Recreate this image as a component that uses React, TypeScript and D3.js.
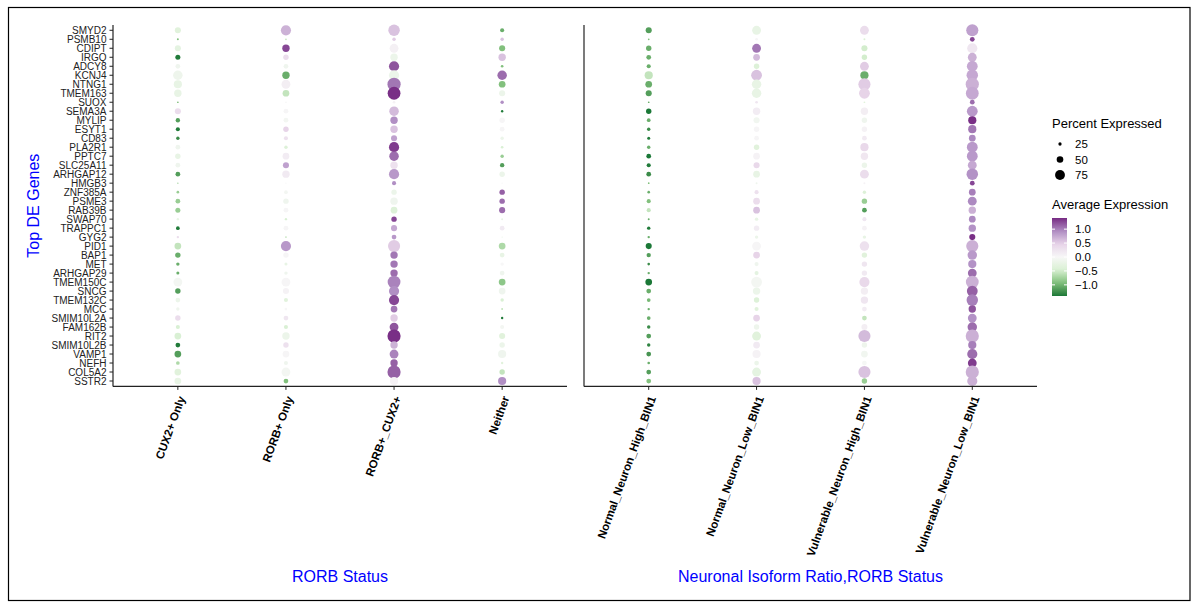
import React from "react";
import * as d3 from "d3";

// genes, top to bottom
const genes = [
  "SMYD2", "PSMB10", "CDIPT", "IRGQ", "ADCY8", "KCNJ4", "NTNG1", "TMEM163", "SUOX", "SEMA3A",
  "MYLIP", "ESYT1", "CD83", "PLA2R1", "PPTC7", "SLC25A11", "ARHGAP12", "HMGB3", "ZNF385A", "PSME3",
  "RAB39B", "SWAP70", "TRAPPC1", "GYG2", "PID1", "BAP1", "MET", "ARHGAP29", "TMEM150C", "SNCG",
  "TMEM132C", "MCC", "SMIM10L2A", "FAM162B", "RIT2", "SMIM10L2B", "VAMP1", "NEFH", "COL5A2", "SSTR2",
];

const rorbGroups = ["CUX2+ Only", "RORB+ Only", "RORB+_CUX2+", "Neither"];
const isoformGroups = [
  "Normal_Neuron_High_BIN1", "Normal_Neuron_Low_BIN1",
  "Vulnerable_Neuron_High_BIN1", "Vulnerable_Neuron_Low_BIN1",
];

// average expression / percent expressed, one pair per group
const cux2OnlyAvg = [-0.35, -0.92, -0.29, -1.38, -0.12, -0.14, -0.23, -0.23, -0.92, 0.35, -1.15, -1.38, -1.27, -0.12, -0.23, -0.12, -1.15, -0.8, -0.8, -0.8, -0.8, -0.23, -1.38, 0.35, -0.58, -1.04, -1.04, -1.04, -0.06, -1.15, -0.17, -0.12, 0.35, -0.46, -0.46, -1.38, -1.15, -0.69, -0.35, -0.23];
const cux2OnlyPct = [46, 15, 46, 38, 36, 72, 62, 56, 13, 46, 33, 31, 26, 36, 41, 36, 36, 10, 20, 36, 38, 18, 28, 18, 51, 41, 26, 23, 67, 41, 36, 26, 41, 31, 51, 36, 51, 28, 51, 51];

const rorbOnlyAvg = [0.69, -0.58, 1.27, 0.35, -0.12, -1.04, 0.12, -0.58, 0, 0.02, -0.06, 0.46, 0.29, -0.4, 0.14, 0.8, 0.17, 0, -0.06, -0.12, 0.02, -0.46, 0.02, -0.58, 0.86, 0.02, -0.23, -0.12, 0.02, 0.06, -0.35, 0, 0.23, -0.46, -0.17, 0.29, 0.03, -0.12, -0.06, -0.92];
const rorbOnlyPct = [77, 13, 56, 41, 36, 56, 67, 51, 13, 36, 36, 41, 31, 26, 51, 46, 56, 10, 28, 41, 36, 18, 36, 13, 77, 41, 23, 26, 67, 46, 31, 20, 36, 31, 56, 41, 51, 31, 67, 36];

const bothAvg = [0.58, 0.52, 0.09, -0.17, 1.21, -0.17, 1.04, 1.38, 0.06, 0.63, 0.92, 0.58, 0.8, 1.32, 1.09, 0.29, 0.86, 0.92, -0.17, -0.12, -0.4, 1.27, 0.75, 0.86, 0.52, 1.04, 1.04, 1.09, 0.98, 0.92, 1.27, 1.04, 0.52, 1.21, 1.38, 0.69, 0.98, 1.15, 1.15, 0.06];
const bothPct = [87, 26, 67, 56, 77, 77, 100, 97, 20, 72, 56, 56, 46, 77, 72, 56, 77, 31, 41, 56, 51, 41, 46, 36, 92, 56, 56, 56, 97, 77, 77, 51, 56, 67, 100, 56, 67, 56, 100, 62];

const neitherAvg = [-1.04, 0.58, -0.92, 0.58, -0.92, 1.09, -0.92, -0.17, 0.92, -1.38, 0.03, 0.02, -0.17, -0.46, -0.8, -1.15, -0.17, 0, 1.15, 1.09, 1.09, -0.23, 0.17, -0.17, -0.69, -0.23, 0, -0.12, -0.86, -0.12, -0.46, -0.58, -1.38, -0.06, -0.35, -0.17, -0.12, -0.35, -0.58, 0.92];
const neitherPct = [31, 26, 46, 56, 20, 72, 51, 46, 26, 18, 41, 36, 26, 20, 26, 33, 41, 10, 41, 41, 46, 15, 36, 10, 51, 36, 26, 36, 51, 51, 26, 15, 18, 31, 46, 41, 62, 18, 41, 62];

const normalHighAvg = [-1.15, -0.92, -1.04, -1.04, -1.04, -0.58, -1.04, -1.15, -1.04, -1.4, -1.04, -1.27, -1.38, -1.04, -1.4, -1.38, -1.27, -0.92, -1.04, -0.92, -0.58, -1.04, -1.38, -1.04, -1.4, -1.15, -1.27, -1.04, -1.4, -1.04, -0.98, -1.04, -1.04, -1.27, -1.15, -1.32, -1.21, -1.04, -1.15, -0.92];
const normalHighPct = [46, 13, 41, 36, 31, 62, 51, 46, 13, 41, 28, 26, 23, 26, 36, 31, 36, 13, 20, 31, 31, 15, 26, 18, 46, 33, 20, 18, 51, 36, 28, 18, 28, 26, 36, 26, 36, 20, 36, 36];

const normalLowAvg = [-0.23, 0.02, 1.04, 0.63, -0.4, 0.58, -0.23, -0.23, 0.23, 0.14, -0.09, 0.02, 0.02, -0.35, 0.06, 0.4, -0.23, -0.12, 0.29, 0.35, 0.58, -0.23, 0.14, -0.17, 0.02, 0.46, -0.12, -0.29, -0.06, -0.17, -0.4, -0.35, 0.46, -0.14, -0.35, 0.17, 0.06, -0.17, -0.29, 0.58];
const normalLowPct = [67, 20, 67, 51, 41, 82, 72, 72, 20, 56, 46, 41, 36, 41, 51, 46, 51, 15, 31, 51, 51, 26, 41, 26, 67, 51, 31, 31, 82, 56, 41, 31, 51, 41, 67, 51, 62, 36, 67, 62];

const vulnHighAvg = [0.35, -0.4, -0.5, -0.5, 0.52, -1.04, 0.52, 0.46, -0.35, 0.12, -0.12, 0.06, 0.17, 0.4, 0.21, -0.17, 0.35, 0.06, -0.4, -0.8, -1.15, 0.23, 0.06, -0.23, 0.29, -0.35, 0.23, 0.17, 0.4, 0.12, 0.23, 0.14, -0.58, 0.12, 0.63, -0.14, -0.09, -0.03, 0.58, -0.8];
const vulnHighPct = [67, 15, 46, 41, 67, 62, 92, 82, 13, 56, 41, 41, 36, 62, 56, 41, 67, 15, 26, 41, 36, 31, 36, 26, 72, 41, 41, 41, 77, 56, 56, 36, 36, 46, 92, 41, 51, 36, 92, 41];

const vulnLowAvg = [0.8, 1.27, 0.23, 0.7, 0.75, 0.75, 0.7, 0.75, 1.09, 0.85, 1.38, 1.04, 0.95, 0.85, 0.85, 0.75, 0.9, 1.27, 1.0, 0.95, 0.7, 0.95, 0.9, 1.38, 0.7, 0.85, 0.9, 1.09, 0.7, 1.15, 1.0, 1.21, 0.9, 1.09, 0.7, 1.0, 1.09, 1.32, 0.7, 0.7];
const vulnLowPct = [92, 36, 77, 67, 82, 87, 100, 97, 36, 82, 62, 62, 51, 82, 82, 67, 87, 36, 51, 67, 56, 51, 56, 46, 92, 72, 62, 67, 97, 82, 87, 56, 67, 72, 100, 62, 77, 67, 100, 77];

const sizeBreaks = [25, 50, 75];
const colorBreaks = [1.0, 0.5, 0.0, -0.5, -1.0];
const prgn = ["#1b7837", "#7fbf7b", "#d9f0d3", "#f7f7f7", "#e7d4e8", "#af8dc3", "#762a83"];

const W = 1191;
const H = 602;
const plotTop = 24.9;
const plotBottom = 386.4;
const font = "'Liberation Sans', Arial, Helvetica, sans-serif";

const panels = [
  {
    key: "rorb", x0: 113, x1: 567, groups: rorbGroups, title: "RORB Status", genes: true,
    avg: [cux2OnlyAvg, rorbOnlyAvg, bothAvg, neitherAvg],
    pct: [cux2OnlyPct, rorbOnlyPct, bothPct, neitherPct],
  },
  {
    key: "iso", x0: 584, x1: 1037, groups: isoformGroups, title: "Neuronal Isoform Ratio,RORB Status", genes: false,
    avg: [normalHighAvg, normalLowAvg, vulnHighAvg, vulnLowAvg],
    pct: [normalHighPct, normalLowPct, vulnHighPct, vulnLowPct],
  },
];

export default function App() {
  const y = d3.scalePoint<string>().domain(genes).range([plotTop, plotBottom]).padding(0.6);
  const r = d3.scaleLinear().domain([0, 100]).range([0, 6.6]);
  const lo = -1.4, hi = 1.4;
  const color = d3.scaleLinear<string>()
    .domain(prgn.map((_, i) => lo + (i * (hi - lo)) / (prgn.length - 1)))
    .range(prgn)
    .interpolate(d3.interpolateLab)
    .clamp(true);

  // colourbar
  const barX = 1052, barW = 15;
  const barY = d3.scaleLinear().domain([lo, hi]).range([296, 218]);
  const stops = d3.range(0, 1.0001, 0.05);

  return (
    <svg width={W} height={H} style={{ position: "absolute", left: 0, top: 0, background: "#fff" }} fontFamily={font}>
      <defs>
        <linearGradient id="avgGrad" x1="0" y1="1" x2="0" y2="0">
          {stops.map((t) => (
            <stop key={t} offset={t} stopColor={color(lo + t * (hi - lo))} />
          ))}
        </linearGradient>
      </defs>
      <rect x={8.5} y={7.5} width={1181.5} height={593} fill="#fff" stroke="#000" strokeWidth={1.2} />

      {panels.map((p) => {
        const x = d3.scalePoint<string>().domain(p.groups).range([p.x0, p.x1]).padding(0.6);
        return (
          <g key={p.key}>
            {p.groups.map((g, gi) =>
              genes.map((gene, i) => (
                <circle
                  key={g + gene}
                  cx={x(g)}
                  cy={y(gene)}
                  r={r(p.pct[gi][i])}
                  fill={color(p.avg[gi][i])}
                />
              ))
            )}
            <line x1={p.x0} x2={p.x0} y1={plotTop} y2={plotBottom} stroke="#222" strokeWidth={1.2} />
            <line x1={p.x0} x2={p.x1} y1={plotBottom} y2={plotBottom} stroke="#222" strokeWidth={1.2} />
            {p.genes && genes.map((gene) => (
              <g key={gene} transform={`translate(${p.x0},${y(gene)})`}>
                <line x1={-3.5} x2={0} stroke="#222" strokeWidth={1} />
                <text x={-6.5} dy="0.35em" textAnchor="end" fontSize={10} fill="#222">{gene}</text>
              </g>
            ))}
            {p.groups.map((g) => (
              <g key={g} transform={`translate(${x(g)},${plotBottom})`}>
                <line y1={0} y2={3.5} stroke="#222" strokeWidth={1} />
                <text
                  transform="translate(7.5,11.5) rotate(-70)"
                  textAnchor="end"
                  fontSize={11.5}
                  fontWeight="bold"
                  fill="#000"
                >
                  {g}
                </text>
              </g>
            ))}
            <text x={(p.x0 + p.x1) / 2} y={582} textAnchor="middle" fontSize={16} fill="#0000ff">{p.title}</text>
          </g>
        );
      })}

      <text transform={`translate(39,${(plotTop + plotBottom) / 2}) rotate(-90)`} textAnchor="middle" fontSize={16} fill="#0000ff">
        Top DE Genes
      </text>

      {/* size legend */}
      <text x={1052} y={128} fontSize={13} fill="#000">Percent Expressed</text>
      {sizeBreaks.map((b, i) => (
        <g key={b} transform={`translate(0,${144 + i * 15.5})`}>
          <circle cx={1060} cy={0} r={r(b)} fill="#000" />
          <text x={1075} dy="0.35em" fontSize={11.5} fill="#000">{b}</text>
        </g>
      ))}

      {/* colour legend */}
      <text x={1052} y={209} fontSize={13} fill="#000">Average Expression</text>
      <rect x={barX} y={barY(hi)} width={barW} height={barY(lo) - barY(hi)} fill="url(#avgGrad)" />
      {colorBreaks.map((b) => (
        <g key={b} transform={`translate(0,${barY(b)})`}>
          <line x1={barX} x2={barX + 3} stroke="#fff" strokeWidth={1} />
          <line x1={barX + barW - 3} x2={barX + barW} stroke="#fff" strokeWidth={1} />
          <text x={1075} dy="0.35em" fontSize={11.5} fill="#000">{b === 0 ? "0.0" : d3.format(".1f")(b).replace("-", "\u2212")}</text>
        </g>
      ))}
    </svg>
  );
}
